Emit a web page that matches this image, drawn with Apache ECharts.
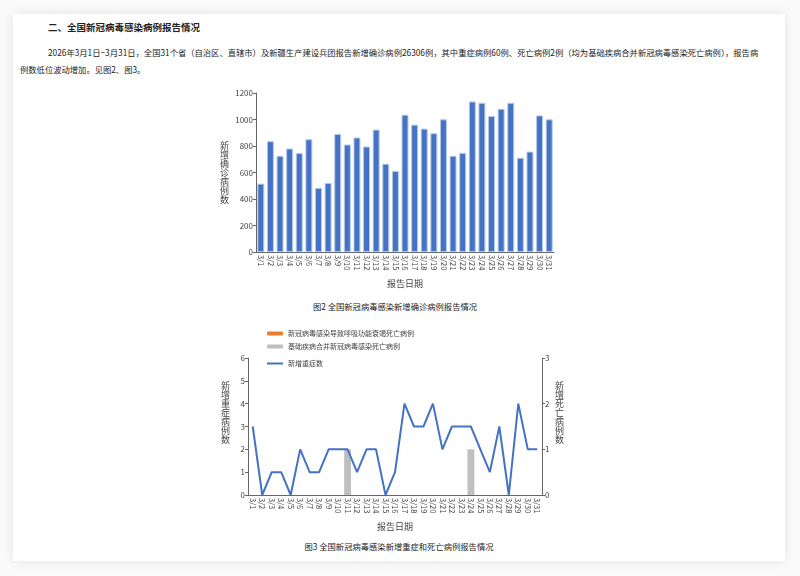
<!DOCTYPE html>
<html><head><meta charset="utf-8">
<script src="https://cdn.jsdelivr.net/npm/echarts@6/dist/echarts.min.js"></script>
<style>
html,body{margin:0;padding:0;background:#fafafa;}
#page{position:relative;width:800px;height:576px;overflow:hidden;background:#fafafa;}
#card{position:absolute;left:13px;top:14px;width:772px;height:547px;background:#fff;box-shadow:0 0 10px rgba(0,0,0,0.10);}
.t{position:absolute;font-family:'Noto Sans CJK SC',sans-serif;color:#222;white-space:nowrap;line-height:12px;}
#chart{position:absolute;left:0;top:0;width:800px;height:576px;}
</style></head>
<body><div id="page">
<div id="card"></div>
<div class="t" style="left:48px;top:21px;font-size:9.5px;font-weight:bold;">二、全国新冠病毒感染病例报告情况</div>
<div class="t" style="left:48px;top:46px;font-size:8.3px;">2026年3月1日−3月31日，全国31个省（自治区、直辖市）及新疆生产建设兵团报告新增确诊病例26306例，其中重症病例60例、死亡病例2例（均为基础疾病合并新冠病毒感染死亡病例），报告病</div>
<div class="t" style="left:20px;top:63px;font-size:8.3px;">例数低位波动增加。见图2、图3。</div>
<div class="t" style="left:295px;width:200px;text-align:center;top:300px;font-size:8.3px;">图2 全国新冠病毒感染新增确诊病例报告情况</div>
<div class="t" style="left:299px;width:200px;text-align:center;top:540px;font-size:8.3px;">图3 全国新冠病毒感染新增重症和死亡病例报告情况</div>
<div id="chart"></div>
</div>
<script>
const categories = ['3/1','3/2','3/3','3/4','3/5','3/6','3/7','3/8','3/9','3/10','3/11','3/12','3/13','3/14','3/15','3/16','3/17','3/18','3/19','3/20','3/21','3/22','3/23','3/24','3/25','3/26','3/27','3/28','3/29','3/30','3/31'];
const confirmedCases = [516,836,726,781,746,851,484,521,891,811,864,796,924,666,611,1036,961,931,896,1001,726,748,1136,1126,1026,1081,1126,711,758,1031,1001];
const severeCases = [3,0,1,1,0,2,1,1,2,2,2,1,2,2,0,1,4,3,3,4,2,3,3,3,2,1,3,0,4,2,2];
const deathsRespFailure = [0,0,0,0,0,0,0,0,0,0,0,0,0,0,0,0,0,0,0,0,0,0,0,0,0,0,0,0,0,0,0];
const deathsUnderlying = [0,0,0,0,0,0,0,0,0,0,1,0,0,0,0,0,0,0,0,0,0,0,0,1,0,0,0,0,0,0,0];
const seriesNames = ['新冠病毒感染导致呼吸功能衰竭死亡病例','基础疾病合并新冠病毒感染死亡病例','新增重症数'];

const font = "'Noto Sans CJK SC', sans-serif";
const axisColor = '#666';
const labelColor = '#444';
function vert(s, extra){ return s.split('').join('\n') + '\n'.repeat(extra||0); }
function xAxisCfg(gi){
  return {gridIndex:gi,type:'category',data:categories,
    axisLine:{lineStyle:{color:axisColor}},
    axisTick:{length:3,lineStyle:{color:axisColor}},
    axisLabel:{rotate:-90,interval:0,fontSize:7.5,color:labelColor,margin:3},
    name:'报告日期',nameLocation:'middle',nameGap:27,
    nameTextStyle:{fontSize:9,color:labelColor}};
}
function yAxisCfg(gi,min,max,interval,name,gap,pos,extra){
  return {gridIndex:gi,type:'value',min:min,max:max,interval:interval,position:pos||'left',
    axisLine:{show:true,lineStyle:{color:axisColor}},
    axisTick:{show:true,length:3,lineStyle:{color:axisColor}},
    splitLine:{show:false},
    axisLabel:{fontSize:8,color:labelColor,margin:3,formatter:function(v){return String(v);}},
    name:vert(name,extra),nameLocation:'middle',nameRotate:0,nameGap:gap,
    nameTextStyle:{fontSize:9,color:labelColor,lineHeight:9}};
}
const chart = echarts.init(document.getElementById('chart'));
chart.setOption({
  animation:false,
  textStyle:{fontFamily:font},
  grid:[{left:256,top:93,width:298,height:159},{left:248,top:358,width:294,height:137}],
  legend:[
    {left:262,top:325,orient:'vertical',itemWidth:16,itemHeight:4,itemGap:6,
      data:[seriesNames[0],seriesNames[1]],textStyle:{fontSize:7,color:labelColor}},
    {left:262,top:355,orient:'vertical',itemWidth:16,itemHeight:2,
      data:[{name:seriesNames[2],icon:'rect'}],textStyle:{fontSize:7,color:labelColor}}
  ],
  xAxis:[xAxisCfg(0),xAxisCfg(1)],
  yAxis:[
    yAxisCfg(0,0,1200,200,'新增确诊病例数',27),
    yAxisCfg(1,0,6,1,'新增重症病例数',18,'left',3),
    yAxisCfg(1,0,3,1,'新增死亡病例数',13,'right',3)
  ],
  series:[
    {type:'bar',xAxisIndex:0,yAxisIndex:0,data:confirmedCases,barWidth:'72%',
      itemStyle:{color:'#4472C4',borderColor:'#b4c7e7',borderWidth:1}},
    {name:seriesNames[0],type:'bar',xAxisIndex:1,yAxisIndex:2,stack:'d',data:deathsRespFailure,barWidth:'72%',
      itemStyle:{color:'#ED7D31'}},
    {name:seriesNames[1],type:'bar',xAxisIndex:1,yAxisIndex:2,stack:'d',data:deathsUnderlying,barWidth:'72%',
      itemStyle:{color:'#BFBFBF'}},
    {name:seriesNames[2],type:'line',xAxisIndex:1,yAxisIndex:1,data:severeCases,symbol:'none',
      lineStyle:{color:'#4472C4',width:2},itemStyle:{color:'#4472C4'}}
  ]
});
</script>
</body></html>
